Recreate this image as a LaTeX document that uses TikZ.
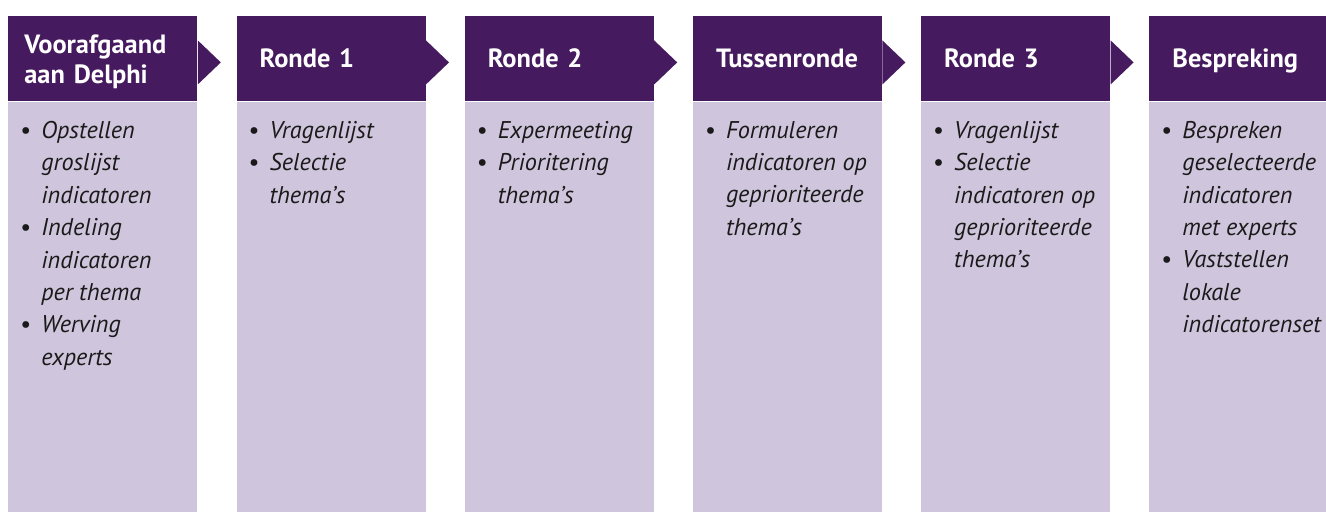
\documentclass[tikz,border=0pt]{standalone}
\usepackage{fontspec}
\setmainfont{PT Sans}
\usetikzlibrary{positioning}
\definecolor{paars}{HTML}{461A5E}
\definecolor{lila}{HTML}{CFC5DC}
\definecolor{tekst}{HTML}{1A1A1A}
\newcommand\pnt{\makebox[10.5pt][l]{\upshape\textbullet}}
\newcommand\nxt{\hspace*{10.5pt}}
\begin{document}
\begin{tikzpicture}[x=0.5pt,y=-0.5pt,
    kopbasis/.style={fill=paars, text=white, anchor=north west,
      font=\fontsize{13.2}{15}\selectfont\bfseries,
      minimum height=42.5pt, inner ysep=0pt, align=left},
    kop/.style={kopbasis, inner xsep=11.5pt, text width=71.5pt,
      text height=25.5pt, text depth=17pt},
    romp/.style={fill=lila, minimum width=94.5pt, minimum height=205pt,
      inner sep=0pt},
    lijst/.style={anchor=north west, inner sep=0pt, text=tekst, align=left,
      font=\fontsize{12.1}{16.2}\selectfont\itshape},
    pijl/.style={fill=paars}]
  \useasboundingbox (0,0) rectangle (1326,511);
  % koppen
  \node[kopbasis, inner xsep=8pt, text width=78.5pt,
    text height=18.5pt, text depth=24pt] (h1) at (8,16)
    {Voorafgaand\\aan Delphi};
  \node[kop] (h2) at (236.2,16) {Ronde 1};
  \node[kop] (h3) at (464.4,16) {Ronde 2};
  \node[kop] (h4) at (692.6,16) {Tussenronde};
  \node[kop] (h5) at (920.8,16) {Ronde 3};
  \node[kop] (h6) at (1149,16) {Bespreking};
  % pijlpunten
  \foreach \k in {1,...,5}
    \fill[pijl] (h\k.east) ++(0,-18.5) -- ++(23,22) -- ++(-23,22) -- cycle;
  % vlakken
  \node[romp, below=0pt of h1] (b1) {};
  \node[romp, below=0pt of h2] (b2) {};
  \node[romp, below=0pt of h3] (b3) {};
  \node[romp, below=0pt of h4] (b4) {};
  \node[romp, below=0pt of h5] (b5) {};
  \node[romp, below=0pt of h6] (b6) {};
  % teksten
  \node[lijst] (l1) at ([xshift=6pt,yshift=-9.5pt]b1.north west)
    {\pnt Opstellen\\\nxt groslijst\\\nxt indicatoren\\\pnt Indeling\\
     \nxt indicatoren\\\nxt per thema\\\pnt Werving\\\nxt experts};
  \node[lijst] (l2) at ([xshift=6pt,yshift=-9.5pt]b2.north west)
    {\pnt Vragenlijst\\\pnt Selectie\\\nxt thema’s};
  \node[lijst] (l3) at ([xshift=6pt,yshift=-9.5pt]b3.north west)
    {\pnt Expermeeting\\\pnt Prioritering\\\nxt thema’s};
  \node[lijst] (l4) at ([xshift=6pt,yshift=-9.5pt]b4.north west)
    {\pnt Formuleren\\\nxt indicatoren op\\\nxt geprioriteerde\\\nxt thema’s};
  \node[lijst] (l5) at ([xshift=6pt,yshift=-9.5pt]b5.north west)
    {\pnt Vragenlijst\\\pnt Selectie\\\nxt indicatoren op\\
     \nxt geprioriteerde\\\nxt thema’s};
  \node[lijst] (l6) at ([xshift=6pt,yshift=-9.5pt]b6.north west)
    {\pnt Bespreken\\\nxt geselecteerde\\\nxt indicatoren\\\nxt met experts\\
     \pnt Vaststellen\\\nxt lokale\\\nxt indicatorenset};
\end{tikzpicture}
\end{document}
